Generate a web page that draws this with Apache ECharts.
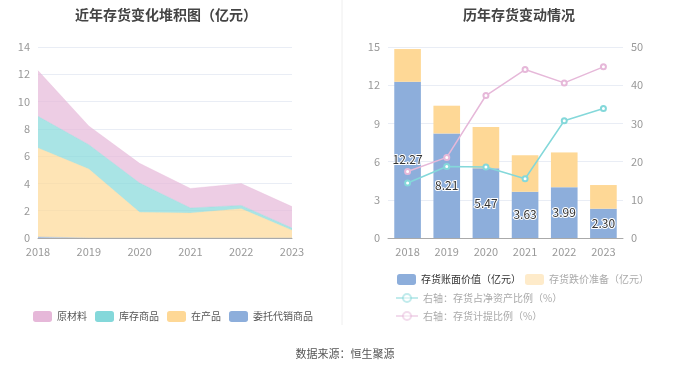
<!DOCTYPE html>
<html><head><meta charset="utf-8">
<script src="https://cdn.jsdelivr.net/npm/echarts@6/dist/echarts.min.js"></script>
<style>html,body{margin:0;padding:0;background:#fff}#c{width:680px;height:367px}</style>
</head><body><div id="c"></div>
<script>
var years = ['2018','2019','2020','2021','2022','2023'];
// left stacked area (亿元)
var rawMaterial = [3.35, 1.37, 1.44, 1.43, 1.60, 1.57];
var finishedGoods = [2.32, 1.78, 2.15, 0.37, 0.24, 0.17];
var wip = [6.52, 5.06, 1.88, 1.83, 2.15, 0.56];
var consigned = [0.08, 0, 0, 0, 0, 0];
// right chart
var bookValue = [12.27, 8.21, 5.47, 3.63, 3.99, 2.30];
var provision = [2.57, 2.18, 3.25, 2.86, 2.73, 1.86];
var netAssetRatio = [14.4, 18.7, 18.6, 15.5, 30.7, 33.9];
var provisionRatio = [17.4, 21.1, 37.3, 44.1, 40.6, 44.8];
var leftTicks = [0, 2, 4, 6, 8, 10, 12, 14];

var C_PINK = '#e6b8d9', C_TEAL = '#84d8da', C_YEL = '#fed896', C_BLUE = '#8daedb';
var font = '"Noto Sans CJK SC", "Noto Sans", sans-serif';
var axisLbl = {color: '#999', fontSize: 11, fontFamily: font};
var split = {lineStyle: {color: '#e9edf5'}};

var chart = echarts.init(document.getElementById('c'), null, {renderer: 'canvas'});
function area(name, data, color) {
  return {name: name, type: 'line', stack: 'a', data: data, xAxisIndex: 0, yAxisIndex: 0,
    symbol: 'none', smooth: false, lineStyle: {width: 0.5, color: color, opacity: 0.6},
    itemStyle: {color: color}, areaStyle: {color: color, opacity: 0.7}};
}
var legTxt = {color: '#555', fontSize: 10, fontFamily: font};
chart.setOption({
  animation: false,
  textStyle: {fontFamily: font},
  title: [
    {text: '近年存货变化堆积图（亿元）', left: 161, top: 3, textAlign: 'center',
      textStyle: {fontSize: 14, fontWeight: 'bold', color: '#444', fontFamily: font}},
    {text: '历年存货变动情况', left: 514, top: 3, textAlign: 'center',
      textStyle: {fontSize: 14, fontWeight: 'bold', color: '#444', fontFamily: font}},
    {text: '数据来源：恒生聚源', left: 340, top: 343, textAlign: 'center',
      textStyle: {fontSize: 11, fontWeight: 'normal', color: '#555', fontFamily: font}}
  ],
  graphic: [{type: 'line', shape: {x1: 342, y1: 0, x2: 342, y2: 325}, style: {stroke: '#eeeeee', lineWidth: 1}}],
  legend: [
    {data: ['原材料', '库存商品', '在产品', '委托代销商品'], left: 28, top: 306, itemWidth: 19, itemHeight: 11,
      itemGap: 8, icon: 'roundRect', textStyle: legTxt},
    {data: ['存货账面价值（亿元）'], left: 392, top: 269,
      itemWidth: 19, itemHeight: 11, icon: 'roundRect',
      textStyle: {color: '#333', fontSize: 10, fontFamily: font}},
    {data: [{name: '存货跌价准备（亿元）', itemStyle: {opacity: 0.5}}], left: 520, top: 269,
      itemWidth: 19, itemHeight: 11, icon: 'roundRect',
      textStyle: {color: '#aaa', fontSize: 10, fontFamily: font}},
    {data: [
        {name: '右轴：存货占净资产比例（%）', itemStyle: {opacity: 0.5}, lineStyle: {opacity: 0.5}},
        {name: '右轴：存货计提比例（%）', itemStyle: {opacity: 0.5}, lineStyle: {opacity: 0.5}}
      ], left: 390, top: 288, orient: 'vertical',
      itemWidth: 22, itemHeight: 10, itemGap: 8,
      textStyle: {color: '#aaa', fontSize: 10, fontFamily: font}}
  ],
  grid: [
    {left: 38, right: 388, top: 47, bottom: 129, containLabel: false},
    {left: 388, right: 57, top: 47, bottom: 129, containLabel: false}
  ],
  xAxis: [
    {type: 'category', gridIndex: 0, data: years, boundaryGap: false,
      axisLine: {lineStyle: {color: '#aaa'}}, axisTick: {show: false}, axisLabel: axisLbl},
    {type: 'category', gridIndex: 1, data: years,
      axisLine: {lineStyle: {color: '#aaa'}}, axisTick: {show: false}, axisLabel: axisLbl}
  ],
  yAxis: [
    {type: 'value', gridIndex: 0, min: leftTicks[0], max: leftTicks[leftTicks.length - 1], interval: 2,
      axisLabel: axisLbl, splitLine: split, axisLine: {show: false}, axisTick: {show: false}},
    {type: 'value', gridIndex: 1, min: 0, max: 15, interval: 3,
      axisLabel: axisLbl, splitLine: split, axisLine: {show: false}, axisTick: {show: false}},
    {type: 'value', gridIndex: 1, min: 0, max: 50, interval: 10, position: 'right',
      axisLabel: axisLbl, splitLine: {show: false}, axisLine: {show: false}, axisTick: {show: false}}
  ],
  series: [
    area('委托代销商品', consigned, C_BLUE),
    area('在产品', wip, C_YEL),
    area('库存商品', finishedGoods, C_TEAL),
    area('原材料', rawMaterial, C_PINK),
    {name: '存货账面价值（亿元）', type: 'bar', stack: 'b', xAxisIndex: 1, yAxisIndex: 1, data: bookValue,
      barWidth: '68%', itemStyle: {color: C_BLUE},
      label: {show: true, position: 'inside', color: '#333', fontSize: 12, fontFamily: font,
        textBorderColor: '#fff', textBorderWidth: 2, formatter: function (p) { return p.value.toFixed(2); }}},
    {name: '存货跌价准备（亿元）', type: 'bar', stack: 'b', xAxisIndex: 1, yAxisIndex: 1, data: provision,
      barWidth: '68%', itemStyle: {color: C_YEL}},
    {name: '右轴：存货占净资产比例（%）', type: 'line', xAxisIndex: 1, yAxisIndex: 2, data: netAssetRatio,
      symbol: 'emptyCircle', symbolSize: 5, lineStyle: {width: 1.5, color: C_TEAL}, itemStyle: {color: C_TEAL}},
    {name: '右轴：存货计提比例（%）', type: 'line', xAxisIndex: 1, yAxisIndex: 2, data: provisionRatio,
      symbol: 'emptyCircle', symbolSize: 5, lineStyle: {width: 1.5, color: C_PINK}, itemStyle: {color: C_PINK}}
  ]
});
</script></body></html>
